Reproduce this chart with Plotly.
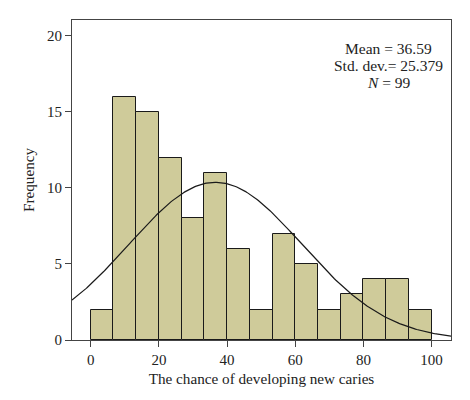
import numpy as np
import plotly.graph_objects as go

# Data
bin_start = 0
bin_end = 100
counts = [2, 16, 15, 12, 8, 11, 6, 2, 7, 5, 2, 3, 4, 4, 2]
mean_val = 36.59
std_val = 25.379
n_val = 99
x_ticks = [0, 20, 40, 60, 80, 100]
y_ticks = [0, 5, 10, 15, 20]
stat_lines = [f"Mean = {mean_val}", f"Std. dev.= {std_val}", f"<i>N</i> = {n_val}"]

bw = (bin_end - bin_start) / len(counts)
centers = [bin_start + bw * (i + 0.5) for i in range(len(counts))]

# Fitted normal curve from the stated mean / std. dev. / N
xs = np.linspace(-5.5, 105.7, 300)
ys = n_val * bw / (std_val * np.sqrt(2 * np.pi)) * np.exp(-0.5 * ((xs - mean_val) / std_val) ** 2)

font_family = "Liberation Serif, Times New Roman, serif"

fig = go.Figure()
fig.add_trace(go.Bar(
    x=centers, y=counts, width=bw,
    marker=dict(color="#cfcb9a", line=dict(color="#1a1a1a", width=1)),
    hoverinfo="x+y", showlegend=False,
))
fig.add_trace(go.Scatter(
    x=xs, y=ys, mode="lines",
    line=dict(color="#1a1a1a", width=1.2),
    showlegend=False, hoverinfo="skip",
))

for i, (txt, yp) in enumerate(zip(stat_lines, [0.9125, 0.859, 0.806])):
    fig.add_annotation(
        x=0.836, y=yp, xref="paper", yref="paper",
        text=txt, showarrow=False, xanchor="center", yanchor="middle",
        font=dict(family=font_family, size=15.5, color="#222"),
    )

fig.update_layout(
    width=470, height=400,
    margin=dict(l=64, r=27, t=12, b=68),
    paper_bgcolor="white", plot_bgcolor="white",
    font=dict(family=font_family, size=15, color="#222"),
    bargap=0,
)
fig.update_xaxes(
    range=[-5.5, 105.7], tickvals=x_ticks, automargin=False,
    showgrid=False, zeroline=False,
    showline=True, mirror=True, linecolor="#444", linewidth=1,
    ticks="outside", ticklen=6, tickcolor="#444",
    tickfont=dict(size=15),
    title=dict(text="The chance of developing new caries", font=dict(size=15.2), standoff=6),
)
fig.update_yaxes(
    range=[0, 21.05], tickvals=y_ticks, automargin=False,
    showgrid=False, zeroline=False,
    showline=True, mirror=True, linecolor="#444", linewidth=1,
    ticks="outside", ticklen=6, tickcolor="#444",
    tickfont=dict(size=15),
    title=dict(text="Frequency", font=dict(size=15.2), standoff=8),
)

fig.write_html("out.html")
